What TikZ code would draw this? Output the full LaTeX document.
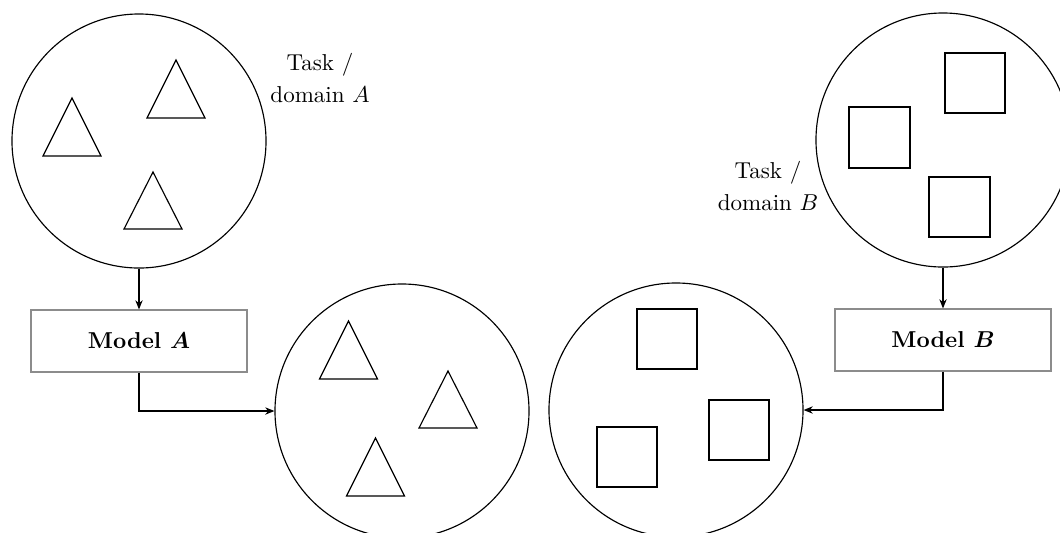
\documentclass[tikz,border=0pt]{standalone}
\usepackage{amsmath}
\usetikzlibrary{arrows.meta}
\begin{document}
\begin{tikzpicture}[x=0.01528cm,y=-0.01528cm,
  world/.style={circle,draw,line width=0.5pt,minimum size=3.88cm,inner sep=0pt},
  shp/.style={line width=0.5pt},
  modelbox/.style={draw=black!45,line width=0.5pt,minimum width=3.3cm,minimum height=0.947cm,inner sep=0pt,font=\bfseries},
  conn/.style={line width=0.5pt,-{Stealth[length=4pt,width=3.2pt]}},
  lbl/.style={align=center,inner sep=0pt,font=\fontsize{10}{14.3}\selectfont}]
\useasboundingbox (0,0) rectangle (1060,532);
% circles
\node[world] (cA) at (139,141) {};
\node[world] (cC) at (402,411) {};
\node[world] (cD) at (676,410) {};
\node[world] (cB) at (943,140) {};
% labels
\node[lbl] (tA) at (320,78) {Task /\\domain $A$};
\node[lbl] (tB) at (768,186) {Task /\\domain $B$};
% models
\node[modelbox] (mA) at (139,341) {Model $\boldsymbol{A}$};
\node[modelbox] (mB) at (943,340) {Model $\boldsymbol{B}$};
% triangles in A
\draw[shp] (43,156) -- (72,98) -- (101,156) -- cycle;
\draw[shp] (147,118) -- (176,60) -- (205,118) -- cycle;
\draw[shp] (124,229) -- (153,172) -- (182,229) -- cycle;
% triangles in C
\draw[shp] (319.5,379) -- (348.5,321) -- (377.5,379) -- cycle;
\draw[shp] (419,428) -- (448,371) -- (477,428) -- cycle;
\draw[shp] (346.5,496) -- (375.5,438) -- (404.5,496) -- cycle;
% squares in B
\draw[shp] (945,53) rectangle (1005,113);
\draw[shp] (849,107) rectangle (910,168);
\draw[shp] (929,177) rectangle (990,237);
% squares in D
\draw[shp] (637,309) rectangle (697,369);
\draw[shp] (709,400) rectangle (769,460);
\draw[shp] (597,427) rectangle (657,487);
% connectors
\draw[conn] (cA.south) -- (mA.north);
\draw[conn] (mA.south) |- (cC.west);
\draw[conn] (cB.south) -- (mB.north);
\draw[conn] (mB.south) |- (cD.east);
\end{tikzpicture}
\end{document}
